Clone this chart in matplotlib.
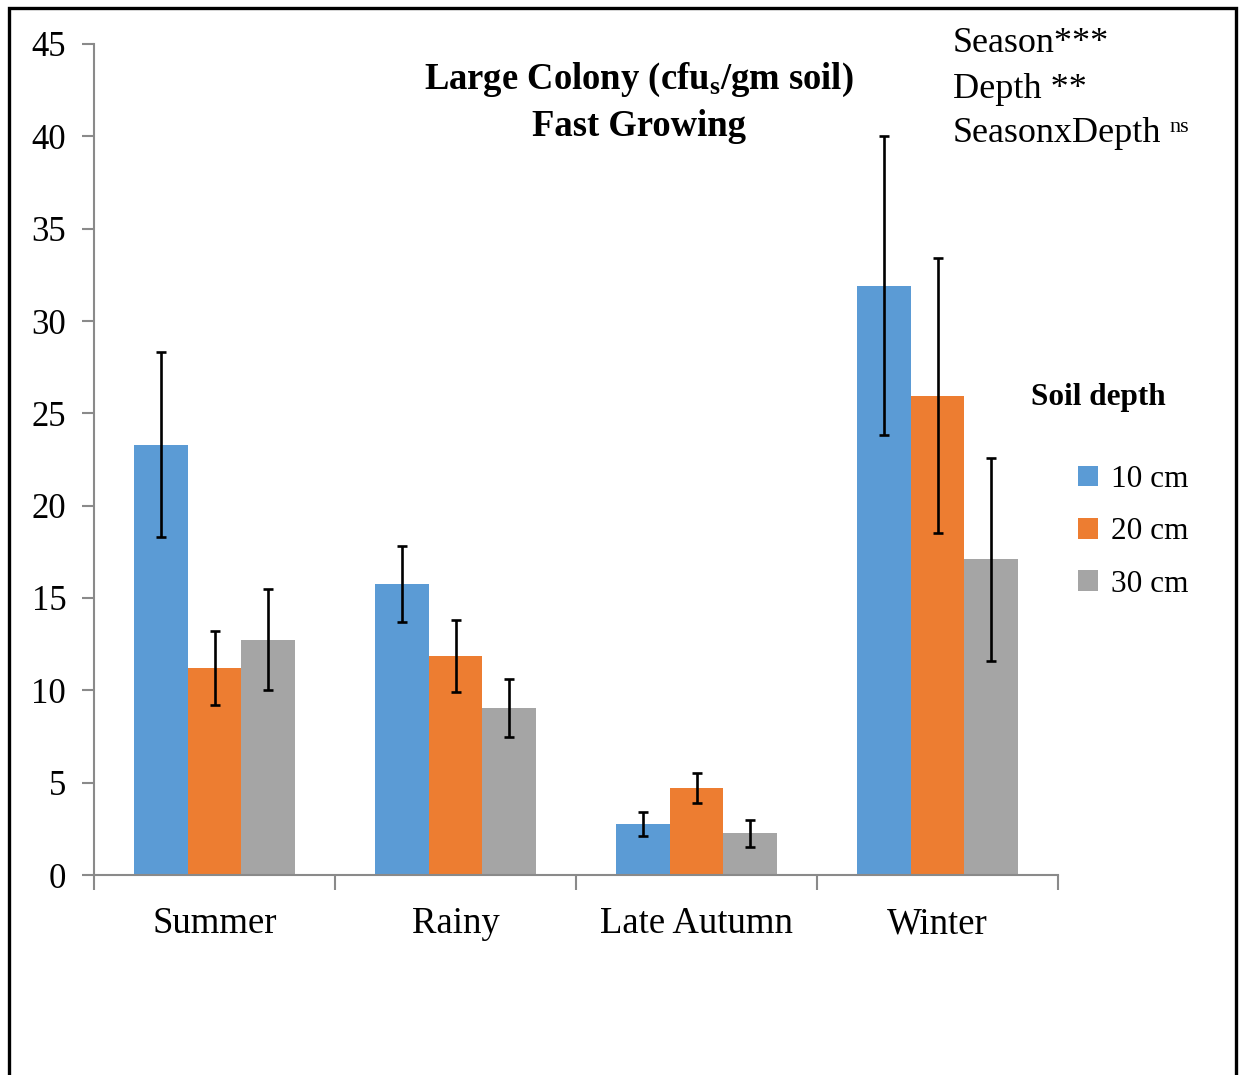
import matplotlib
matplotlib.use("Agg")
import matplotlib.pyplot as plt
from matplotlib.patches import Rectangle
import numpy as np

plt.rcParams["font.family"] = ["Liberation Serif", "DejaVu Serif"]
plt.rcParams["mathtext.fontset"] = "custom"
plt.rcParams["mathtext.rm"] = "Liberation Serif"
plt.rcParams["mathtext.bf"] = "Liberation Serif:bold"
plt.rcParams["mathtext.it"] = "Liberation Serif:italic"

# Data: mean colony counts and error bars per season and depth
seasons = ["Summer", "Rainy", "Late Autumn", "Winter"]
depths = ["10 cm", "20 cm", "30 cm"]
means_10cm = [23.3, 15.75, 2.75, 31.9]
means_20cm = [11.2, 11.85, 4.7, 25.95]
means_30cm = [12.75, 9.05, 2.25, 17.1]
err_10cm = [5.0, 2.05, 0.65, 8.1]
err_20cm = [2.0, 1.95, 0.8, 7.45]
err_30cm = [2.75, 1.55, 0.75, 5.5]
yticks = [0, 5, 10, 15, 20, 25, 30, 35, 40, 45]

colors = ["#5B9BD5", "#ED7D31", "#A5A5A5"]
axis_grey = "#8A8A8A"

W, H = 1243, 1075
fig = plt.figure(figsize=(W / 100, H / 100), dpi=100)
ax = fig.add_axes([94 / W, (H - 875) / H, (1058 - 94) / W, (875 - 44) / H])

x = np.arange(len(seasons))
width = 0.222
series = [(means_10cm, err_10cm), (means_20cm, err_20cm), (means_30cm, err_30cm)]
bars = []
for i, ((m, e), c, lab) in enumerate(zip(series, colors, depths)):
    pos = x + (i - 1) * width
    b = ax.bar(pos, m, width, color=c, label=lab, zorder=2)
    ax.errorbar(pos, m, yerr=e, fmt="none", ecolor="black",
                elinewidth=1.9, capsize=3.8, capthick=1.9, zorder=3)
    bars.append(b)

ax.set_xlim(-0.5, len(seasons) - 0.5)
ax.set_ylim(0, 45)
ax.set_yticks(yticks)
ax.tick_params(axis="y", direction="out", length=9, width=1.5,
               color=axis_grey, labelsize=25, pad=11)

# Category boundaries carry the tick marks, labels sit at group centres
ax.set_xticks(np.arange(-0.5, len(seasons)), minor=False)
ax.set_xticklabels([])
ax.set_xticks(x, minor=True)
ax.set_xticklabels(seasons, minor=True)
ax.tick_params(axis="x", which="major", direction="out", length=11, width=1.5,
               color=axis_grey)
ax.tick_params(axis="x", which="minor", length=0, labelsize=26.5, pad=23)

for s in ["top", "right"]:
    ax.spines[s].set_visible(False)
for s in ["left", "bottom"]:
    ax.spines[s].set_color(axis_grey)
    ax.spines[s].set_linewidth(1.5)
ax.spines["left"].set_zorder(1)

# Title
fig.text(639 / W, 1 - 80 / H, r"Large Colony (cfu$_{\mathregular{s}}$/gm soil)",
         ha="center", va="center", fontsize=26.4, fontweight="bold")
fig.text(639 / W, 1 - 126 / H, "Fast Growing",
         ha="center", va="center", fontsize=26.4, fontweight="bold")

# Significance notes
fig.text(953 / W, 1 - 43 / H, "Season***", ha="left", va="center", fontsize=26)
fig.text(953 / W, 1 - 89 / H, "Depth **", ha="left", va="center", fontsize=26)
fig.text(953 / W, 1 - 133 / H, "SeasonxDepth", ha="left", va="center",
         fontsize=26)
fig.text(1169 / W, 1 - 127 / H, "ns", ha="left", va="center", fontsize=16)

# Legend
fig.text(1031 / W, 1 - 397 / H, "Soil depth", ha="left", va="center",
         fontsize=22.5, fontweight="bold")
fig.legend(handles=bars, labels=depths, loc="upper left",
           bbox_to_anchor=(1078 / W, 1 - 465 / H), frameon=False,
           fontsize=22.5, handlelength=0.65, handleheight=0.65,
           handletextpad=0.4, labelspacing=0.75, borderpad=0, borderaxespad=0)

# Outer frame
fig.patches.append(Rectangle((9 / W, -0.05), (1236 - 9) / W, 1.05 - 8 / H,
                             transform=fig.transFigure, fill=False,
                             edgecolor="black", linewidth=2.4))

fig.savefig("out.png", dpi=100)
